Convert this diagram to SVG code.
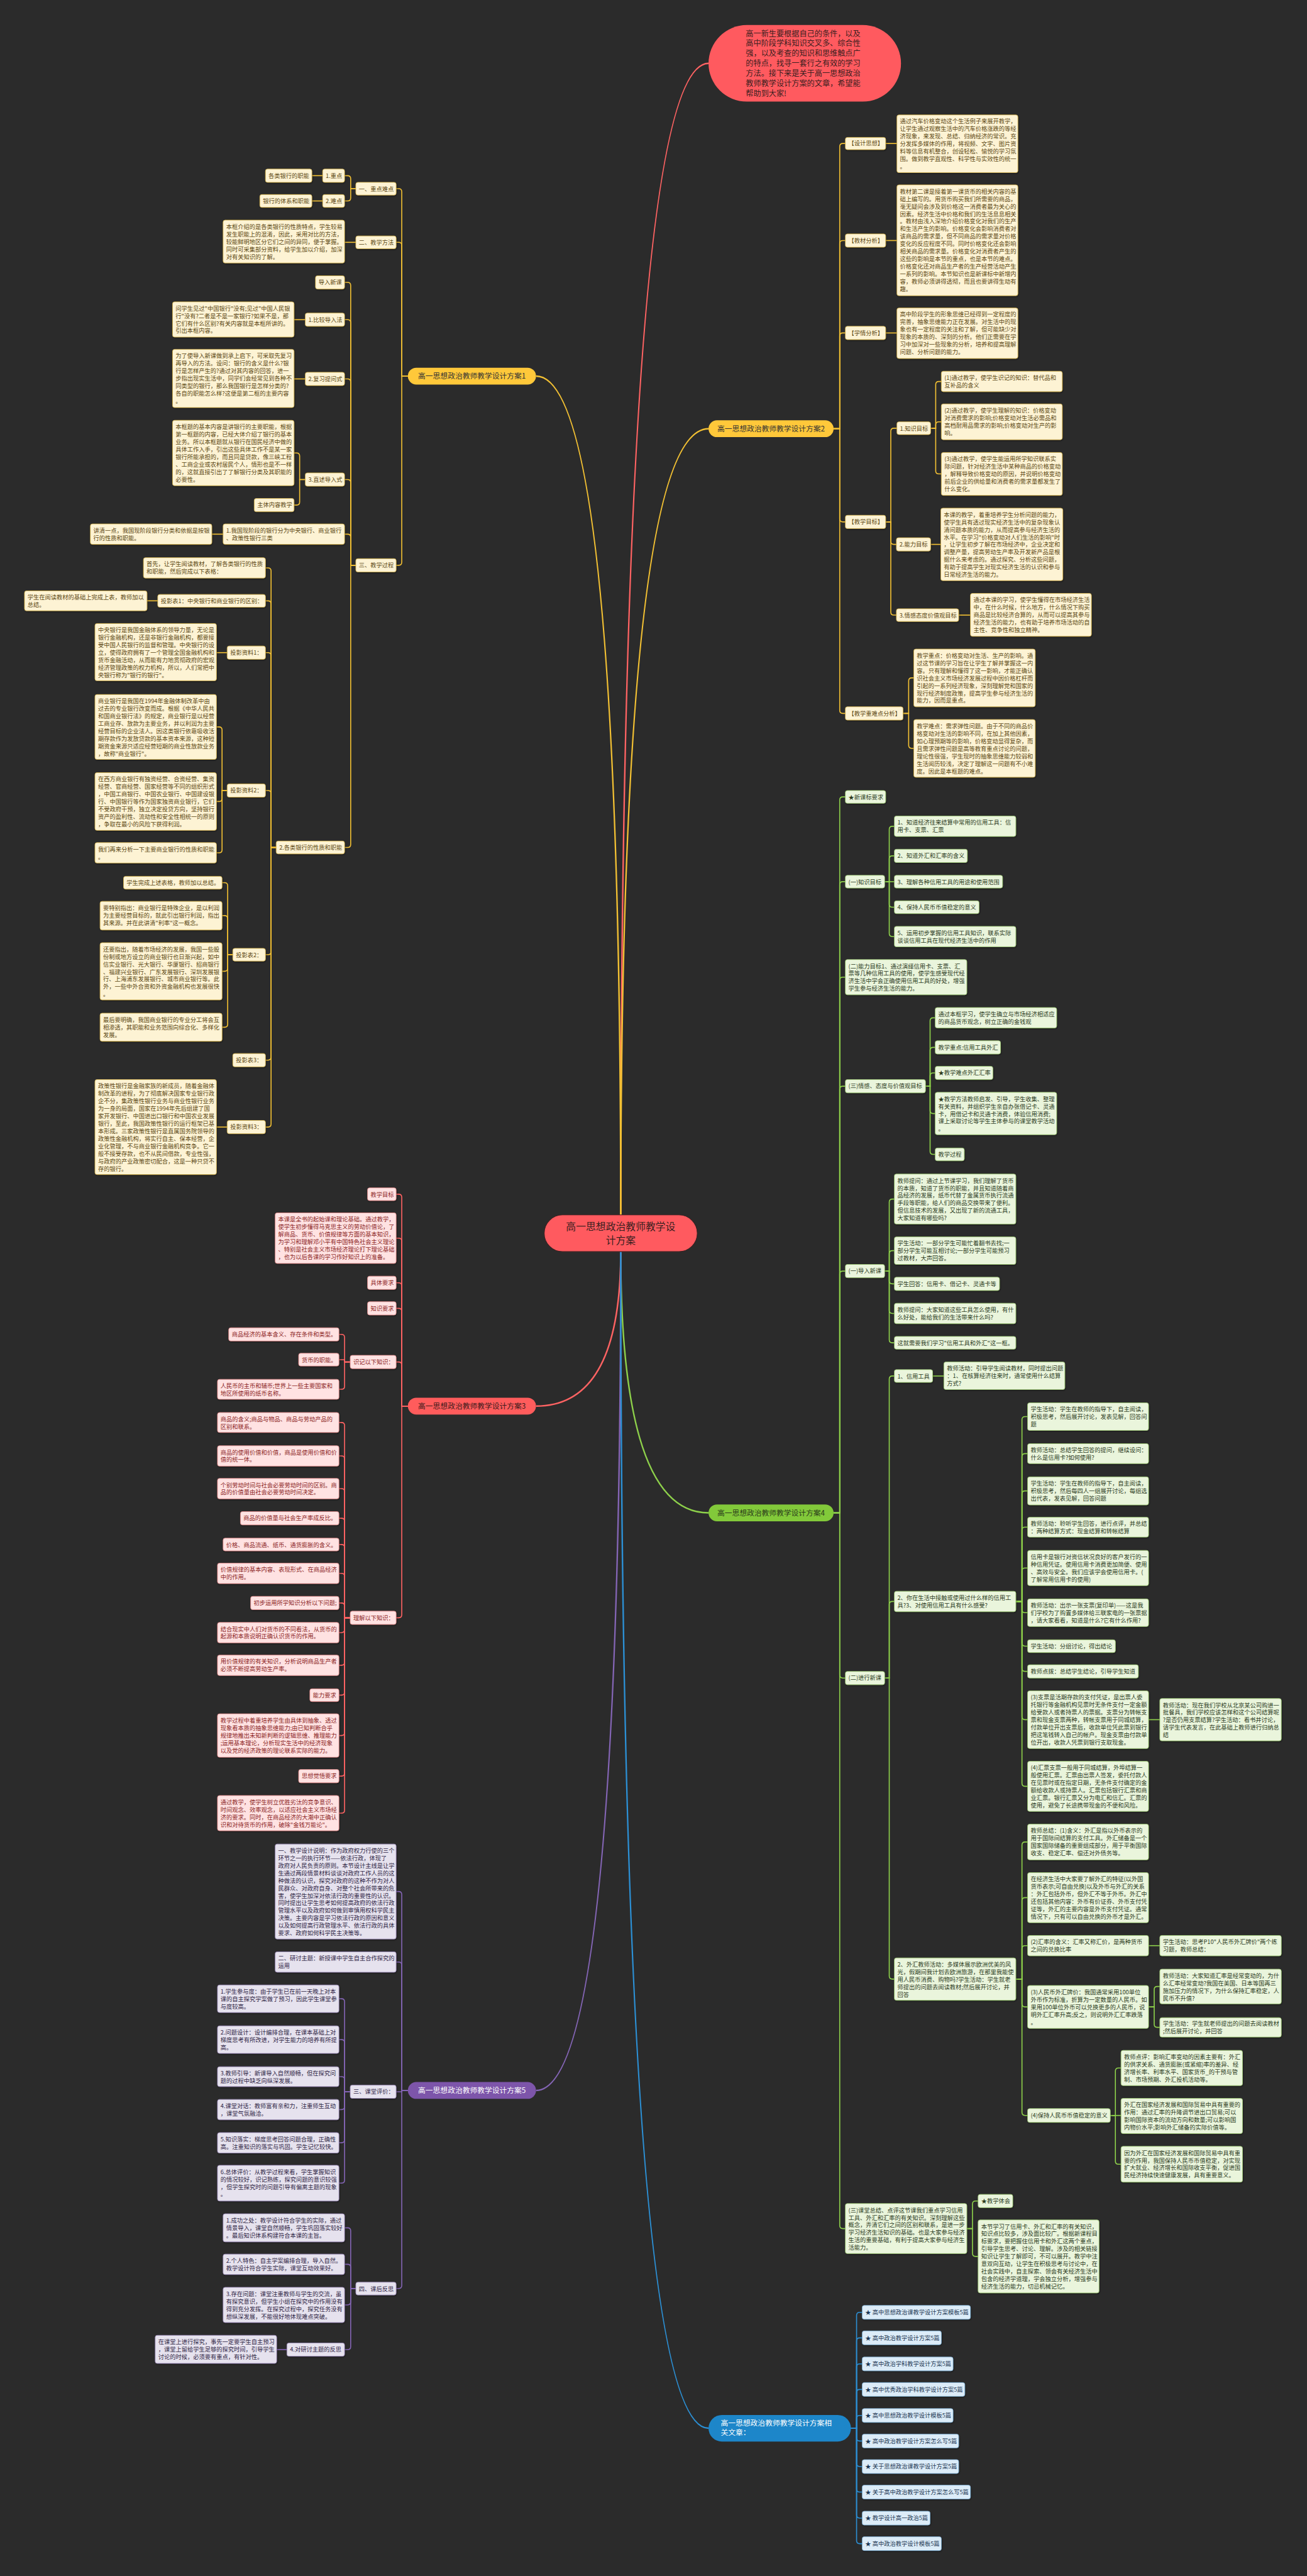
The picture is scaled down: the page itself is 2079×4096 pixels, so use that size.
<svg xmlns="http://www.w3.org/2000/svg" width="2079" height="4096" viewBox="0 0 2079 4096">
<defs><filter id="sh" x="-5%" y="-10%" width="115%" height="130%"><feDropShadow dx="1" dy="1.5" stdDeviation="1" flood-color="#000" flood-opacity="0.45"/></filter></defs>
<style>
text{font-family:"Noto Sans CJK SC","Noto Sans",sans-serif;font-size:11.4px}
path{fill:none;stroke-width:2}
.y rect,.r rect,.p rect,.g rect,.b rect{filter:url(#sh)}
.y rect{fill:#FDF3D4;stroke:#D9B54A;stroke-width:1}
.y text{fill:#5C4813}
.r rect{fill:#FFE2E2;stroke:#E58A8A;stroke-width:1}
.r text{fill:#8C1F1F}
.p rect{fill:#E6E2EE;stroke:#9A88B8;stroke-width:1}
.p text{fill:#2F2545}
.g rect{fill:#EAF5DC;stroke:#9BC870;stroke-width:1}
.g text{fill:#2C3B1C}
.b rect{fill:#DCECF8;stroke:#7FB3DA;stroke-width:1}
.b text{fill:#1B3652}
.m text{font-size:14.5px;text-anchor:middle}
.cy{stroke:#F2C033}.cr{stroke:#FF6363}.cg{stroke:#8ED14B}.cp{stroke:#8465B5}.cb{stroke:#2C90D5}
.main{stroke-width:3}
</style>
<rect width="2079" height="4096" fill="#2B2B2B"/>
<g transform="scale(0.812)">
<g id="connectors">
<path class="cr main" d="M1216 2379 Q1216 124 1388 124"/>
<path class="cy main" d="M1216 2379 Q1216 736.5 1050 736.5"/>
<path class="cy main" d="M1216 2379 Q1216 839.5 1388 839.5"/>
<path class="cr main" d="M1216 2451 Q1216 2753.5 1050 2753.5"/>
<path class="cg main" d="M1216 2451 Q1216 2962.5 1388 2962.5"/>
<path class="cp main" d="M1216 2451 Q1216 4093.5 1050 4093.5"/>
<path class="cb main" d="M1216 2451 Q1216 4755 1388 4755"/>
<g class="cy">
<path d="M799 736.5 H787 V375.5 Q787 369.5 781 369.5 H776"/>
<path d="M799 736.5 H787 V480.5 Q787 474.5 781 474.5 H776"/>
<path d="M799 736.5 H787 V1101 Q787 1107 781 1107 H776"/>
<path d="M697 369.5 H687 V350 Q687 344 681 344 H675"/>
<path d="M697 369.5 H687 V387.5 Q687 393.5 681 393.5 H675"/>
<path d="M632 344 H611"/><path d="M632 393.5 H611"/><path d="M697 474.5 H675"/>
<path d="M697 1107 H687 V559 Q687 553 681 553 H675"/>
<path d="M697 1107 H687 V632 Q687 626 681 626 H675"/>
<path d="M697 1107 H687 V748 Q687 742 681 742 H675"/>
<path d="M697 1107 H687 V945 Q687 939 681 939 H675"/>
<path d="M697 1107 H687 V1052 Q687 1046 681 1046 H675"/>
<path d="M697 1107 H687 V1653.5 Q687 1659.5 681 1659.5 H675"/>
<path d="M598 626 H576"/><path d="M598 742 H576"/>
<path d="M598 939 H587 V893 Q587 887 581 887 H576"/>
<path d="M598 939 H587 V983 Q587 989 581 989 H576"/>
<path d="M437 1046 H415"/>
<path d="M541 1659.5 H531 V1118 Q531 1112 525 1112 H520"/>
<path d="M541 1659.5 H531 V1182.5 Q531 1176.5 525 1176.5 H520"/>
<path d="M541 1659.5 H531 V1284 Q531 1278 525 1278 H520"/>
<path d="M541 1659.5 H531 V1554 Q531 1548 525 1548 H520"/>
<path d="M541 1659.5 H531 V1863.5 Q531 1869.5 525 1869.5 H520"/>
<path d="M541 1659.5 H531 V2070 Q531 2076 525 2076 H520"/>
<path d="M541 1659.5 H531 V2201 Q531 2207 525 2207 H520"/>
<path d="M309 1176.5 H288"/><path d="M445 1278 H424"/>
<path d="M445 1548 H435 V1429.5 Q435 1423.5 429 1423.5 H424"/>
<path d="M445 1548 H435 V1563.5 Q435 1569.5 429 1569.5 H424"/>
<path d="M445 1548 H435 V1664 Q435 1670 429 1670 H424"/>
<path d="M456 1869.5 H446 V1734.5 Q446 1728.5 440 1728.5 H435"/>
<path d="M456 1869.5 H446 V1799 Q446 1793 440 1793 H435"/>
<path d="M456 1869.5 H446 V1896 Q446 1902 440 1902 H435"/>
<path d="M456 1869.5 H446 V2005.5 Q446 2011.5 440 2011.5 H435"/>
<path d="M445 2207 H424"/>
<path d="M1633 839.5 H1645 V287 Q1645 281 1651 281 H1656"/>
<path d="M1633 839.5 H1645 V477 Q1645 471 1651 471 H1656"/>
<path d="M1633 839.5 H1645 V658 Q1645 652 1651 652 H1656"/>
<path d="M1633 839.5 H1645 V1016 Q1645 1022 1651 1022 H1656"/>
<path d="M1633 839.5 H1645 V1391 Q1645 1397 1651 1397 H1656"/>
<path d="M1735 281 H1757"/><path d="M1735 471 H1757"/><path d="M1735 652 H1757"/>
<path d="M1735 1022 H1745 V844.5 Q1745 838.5 1751 838.5 H1757"/>
<path d="M1735 1022 H1745 V1060 Q1745 1066 1751 1066 H1756"/>
<path d="M1735 1022 H1745 V1198.5 Q1745 1204.5 1751 1204.5 H1756"/>
<path d="M1823 838.5 H1833 V753 Q1833 747 1839 747 H1844"/>
<path d="M1823 838.5 H1833 V832 Q1833 826 1839 826 H1844"/>
<path d="M1823 838.5 H1833 V922 Q1833 928 1839 928 H1844"/>
<path d="M1823 1066 H1843"/><path d="M1878 1204.5 H1901"/>
<path d="M1769 1397 H1780 V1333.5 Q1780 1327.5 1786 1327.5 H1790"/>
<path d="M1769 1397 H1780 V1459.5 Q1780 1465.5 1786 1465.5 H1790"/>
</g>
<g class="cr">
<path d="M799 2753.5 H787 V2344.5 Q787 2338.5 781 2338.5 H776"/>
<path d="M799 2753.5 H787 V2430.5 Q787 2424.5 781 2424.5 H776"/>
<path d="M799 2753.5 H787 V2518 Q787 2512 781 2512 H776"/>
<path d="M799 2753.5 H787 V2568 Q787 2562 781 2562 H776"/>
<path d="M799 2753.5 H787 V2673 Q787 2667 781 2667 H776"/>
<path d="M799 2753.5 H787 V3162 Q787 3168 781 3168 H776"/>
<path d="M686 2667 H675 V2619 Q675 2613 669 2613 H664"/>
<path d="M686 2667 H675 V2662.5 H664"/>
<path d="M686 2667 H675 V2714.5 Q675 2720.5 669 2720.5 H664"/>
<path d="M686 3168 H675 V2791.5 Q675 2785.5 669 2785.5 H664"/>
<path d="M686 3168 H675 V2857 Q675 2851 669 2851 H664"/>
<path d="M686 3168 H675 V2921 Q675 2915 669 2915 H664"/>
<path d="M686 3168 H675 V2979 Q675 2973 669 2973 H664"/>
<path d="M686 3168 H675 V3030.5 Q675 3024.5 669 3024.5 H664"/>
<path d="M686 3168 H675 V3087 Q675 3081 669 3081 H664"/>
<path d="M686 3168 H675 V3145 Q675 3139 669 3139 H664"/>
<path d="M686 3168 H675 V3191 Q675 3197 669 3197 H664"/>
<path d="M686 3168 H675 V3255 Q675 3261 669 3261 H664"/>
<path d="M686 3168 H675 V3313.5 Q675 3319.5 669 3319.5 H664"/>
<path d="M686 3168 H675 V3392.5 Q675 3398.5 669 3398.5 H664"/>
<path d="M686 3168 H675 V3472 Q675 3478 669 3478 H664"/>
<path d="M686 3168 H675 V3544.5 Q675 3550.5 669 3550.5 H664"/>
</g>
<g class="cp">
<path d="M799 4093.5 H787 V3710 Q787 3704 781 3704 H776"/>
<path d="M799 4093.5 H787 V3848 Q787 3842 781 3842 H776"/>
<path d="M799 4093.5 H787 V4096 H776"/>
<path d="M799 4093.5 H787 V4475.5 Q787 4481.5 781 4481.5 H776"/>
<path d="M686 4096 H675 V3920 Q675 3914 669 3914 H664"/>
<path d="M686 4096 H675 V4000 Q675 3994 669 3994 H664"/>
<path d="M686 4096 H675 V4072.5 Q675 4066.5 669 4066.5 H664"/>
<path d="M686 4096 H675 V4125 Q675 4131 669 4131 H664"/>
<path d="M686 4096 H675 V4190 Q675 4196 669 4196 H664"/>
<path d="M686 4096 H675 V4269 Q675 4275 669 4275 H664"/>
<path d="M697 4481.5 H687 V4368.5 Q687 4362.5 681 4362.5 H675"/>
<path d="M697 4481.5 H687 V4440 Q687 4434 681 4434 H675"/>
<path d="M697 4481.5 H687 V4507.5 Q687 4513.5 681 4513.5 H675"/>
<path d="M697 4481.5 H687 V4595 Q687 4601 681 4601 H675"/>
<path d="M562 4601 H542"/>
</g>
<g class="cg">
<path d="M1633 2962.5 H1645 V1566.5 Q1645 1560.5 1651 1560.5 H1656"/>
<path d="M1633 2962.5 H1645 V1732.5 Q1645 1726.5 1651 1726.5 H1656"/>
<path d="M1633 2962.5 H1645 V1919.5 Q1645 1913.5 1651 1913.5 H1656"/>
<path d="M1633 2962.5 H1645 V2133 Q1645 2127 1651 2127 H1656"/>
<path d="M1633 2962.5 H1645 V2495 Q1645 2489 1651 2489 H1656"/>
<path d="M1633 2962.5 H1645 V3280 Q1645 3286 1651 3286 H1656"/>
<path d="M1633 2962.5 H1645 V4358 Q1645 4364 1651 4364 H1656"/>
<path d="M1733 1726.5 H1742 V1624 Q1742 1618 1748 1618 H1752"/>
<path d="M1733 1726.5 H1742 V1682 Q1742 1676 1748 1676 H1752"/>
<path d="M1733 1726.5 H1752"/>
<path d="M1733 1726.5 H1742 V1770.5 Q1742 1776.5 1748 1776.5 H1752"/>
<path d="M1733 1726.5 H1742 V1828 Q1742 1834 1748 1834 H1752"/>
<path d="M1813 2127 H1822 V1999 Q1822 1993 1828 1993 H1832"/>
<path d="M1813 2127 H1822 V2057 Q1822 2051 1828 2051 H1832"/>
<path d="M1813 2127 H1822 V2107 Q1822 2101 1828 2101 H1832"/>
<path d="M1813 2127 H1822 V2174.5 Q1822 2180.5 1828 2180.5 H1832"/>
<path d="M1813 2127 H1822 V2254.5 Q1822 2260.5 1828 2260.5 H1832"/>
<path d="M1733 2489 H1742 V2354 Q1742 2348 1748 2348 H1752"/>
<path d="M1733 2489 H1742 V2455 Q1742 2449 1748 2449 H1752"/>
<path d="M1733 2489 H1742 V2508 Q1742 2514 1748 2514 H1752"/>
<path d="M1733 2489 H1742 V2566 Q1742 2572 1748 2572 H1752"/>
<path d="M1733 2489 H1742 V2623.5 Q1742 2629.5 1748 2629.5 H1752"/>
<path d="M1733 3286 H1742 V2700.5 Q1742 2694.5 1748 2694.5 H1752"/>
<path d="M1733 3286 H1742 V3142 Q1742 3136 1748 3136 H1752"/>
<path d="M1733 3286 H1742 V3869.5 Q1742 3875.5 1748 3875.5 H1752"/>
<path d="M1827 2694.5 H1849"/>
<path d="M1990 3136 H2002 V2780 Q2002 2774 2008 2774 H2013"/>
<path d="M1990 3136 H2002 V2852.5 Q2002 2846.5 2008 2846.5 H2013"/>
<path d="M1990 3136 H2002 V2925.5 Q2002 2919.5 2008 2919.5 H2013"/>
<path d="M1990 3136 H2002 V2996.5 Q2002 2990.5 2008 2990.5 H2013"/>
<path d="M1990 3136 H2002 V3076.5 Q2002 3070.5 2008 3070.5 H2013"/>
<path d="M1990 3136 H2002 V3152 Q2002 3158 2008 3158 H2013"/>
<path d="M1990 3136 H2002 V3217.5 Q2002 3223.5 2008 3223.5 H2013"/>
<path d="M1990 3136 H2002 V3267 Q2002 3273 2008 3273 H2013"/>
<path d="M1990 3136 H2002 V3361.5 Q2002 3367.5 2008 3367.5 H2013"/>
<path d="M1990 3136 H2002 V3492 Q2002 3498 2008 3498 H2013"/>
<path d="M2250 3367.5 H2272"/>
<path d="M1990 3875.5 H2002 V3613 Q2002 3607 2008 3607 H2013"/>
<path d="M1990 3875.5 H2002 V3722 Q2002 3716 2008 3716 H2013"/>
<path d="M1990 3875.5 H2002 V3816 Q2002 3810 2008 3810 H2013"/>
<path d="M1990 3875.5 H2002 V3924 Q2002 3930 2008 3930 H2013"/>
<path d="M1990 3875.5 H2002 V4136.5 Q2002 4142.5 2008 4142.5 H2013"/>
<path d="M2250 3810 H2272"/>
<path d="M2250 3930 H2261 V3896 Q2261 3890 2267 3890 H2272"/>
<path d="M2250 3930 H2261 V3964 Q2261 3970 2267 3970 H2272"/>
<path d="M2175 4142.5 H2185 V4055.5 Q2185 4049.5 2191 4049.5 H2196"/>
<path d="M2175 4142.5 H2196"/>
<path d="M2175 4142.5 H2185 V4232 Q2185 4238 2191 4238 H2196"/>
<path d="M1894 4364 H1905 V4316 Q1905 4310 1911 4310 H1916"/>
<path d="M1894 4364 H1905 V4412.5 Q1905 4418.5 1911 4418.5 H1916"/>
</g>
<g class="cb">
<path d="M1667 4755 H1678 V4534 Q1678 4528 1684 4528 H1689"/>
<path d="M1667 4755 H1678 V4584 Q1678 4578 1684 4578 H1689"/>
<path d="M1667 4755 H1678 V4635 Q1678 4629 1684 4629 H1689"/>
<path d="M1667 4755 H1678 V4685 Q1678 4679 1684 4679 H1689"/>
<path d="M1667 4755 H1678 V4736 Q1678 4730 1684 4730 H1689"/>
<path d="M1667 4755 H1678 V4774 Q1678 4780 1684 4780 H1689"/>
<path d="M1667 4755 H1678 V4824 Q1678 4830 1684 4830 H1689"/>
<path d="M1667 4755 H1678 V4874 Q1678 4880 1684 4880 H1689"/>
<path d="M1667 4755 H1678 V4925 Q1678 4931 1684 4931 H1689"/>
<path d="M1667 4755 H1678 V4975 Q1678 4981 1684 4981 H1689"/>
</g>
</g>

<g id="center"><rect x="1066" y="2379" width="300" height="72" rx="36" fill="#FF5A5F" stroke="#3A2222" stroke-width="1.5"/><text x="1216" y="2409" text-anchor="middle" fill="#3A2020" style="font-size:19.5px">高一思想政治教师教学设</text><text x="1216" y="2436" text-anchor="middle" fill="#3A2020" style="font-size:19.5px">计方案</text></g>

<g id="intro"><rect x="1388" y="49" width="377" height="150" rx="75" fill="#FF5A5F"/>
<text fill="#3A2020" style="font-size:15px"><tspan x="1461" y="71">高一新生要根据自己的条件，以及</tspan><tspan x="1461" dy="19.5">高中阶段学科知识交叉多、综合性</tspan><tspan x="1461" dy="19.5">强，以及考查的知识和思维触点广</tspan><tspan x="1461" dy="19.5">的特点，找寻一套行之有效的学习</tspan><tspan x="1461" dy="19.5">方法。接下来是关于高一思想政治</tspan><tspan x="1461" dy="19.5">教师教学设计方案的文章，希望能</tspan><tspan x="1461" dy="19.5">帮助到大家!</tspan></text></g>

<g id="b1" class="m"><rect x="799" y="720" width="251" height="33" rx="16.5" fill="#FFC83A"/><text x="924.5" y="742" fill="#333">高一思想政治教师教学设计方案1</text></g>
<g id="b2" class="m"><rect x="1388" y="823" width="245" height="33" rx="16.5" fill="#FFC83A"/><text x="1510.5" y="845" fill="#333">高一思想政治教师教学设计方案2</text></g>
<g id="b3" class="m"><rect x="799" y="2737" width="251" height="33" rx="16.5" fill="#FF5C5C"/><text x="924.5" y="2759" fill="#3A1A1A">高一思想政治教师教学设计方案3</text></g>
<g id="b4" class="m"><rect x="1388" y="2946" width="245" height="33" rx="16.5" fill="#82C93A"/><text x="1510.5" y="2968" fill="#2A3A1A">高一思想政治教师教学设计方案4</text></g>
<g id="b5" class="m"><rect x="799" y="4077" width="251" height="33" rx="16.5" fill="#7D55AA"/><text x="924.5" y="4099" fill="#fff">高一思想政治教师教学设计方案5</text></g>
<g id="b6"><rect x="1388" y="4729" width="279" height="52" rx="26" fill="#1D86C9"/><text fill="#fff" style="font-size:14.5px"><tspan x="1412" y="4750">高一思想政治教师教学设计方案相</tspan><tspan x="1412" y="4769">关文章：</tspan></text></g>

<g class="y">
<g id="y1"><rect x="697" y="357" width="79" height="25" rx="4"/><text x="703" y="374">一、重点难点</text></g>
<g id="y1a"><rect x="632" y="331" width="43" height="26" rx="4"/><text x="638" y="348">1.重点</text></g>
<g id="y1a1"><rect x="520" y="331" width="91" height="26" rx="4"/><text x="526" y="348">各类银行的职能</text></g>
<g id="y1b"><rect x="632" y="381" width="43" height="25" rx="4"/><text x="638" y="398">2.难点</text></g>
<g id="y1b1"><rect x="509" y="381" width="102" height="25" rx="4"/><text x="515" y="398">银行的体系和职能</text></g>
<g id="y2"><rect x="697" y="462" width="79" height="25" rx="4"/><text x="703" y="479">二、教学方法</text></g>
<g id="y2a"><rect x="437" y="431" width="238" height="84" rx="4"/><text><tspan x="443" y="448">本框介绍的是各类银行的性质特点，学生较易</tspan><tspan x="443" dy="14.7">发生职能上的混淆，因此，采用对比的方法，</tspan><tspan x="443" dy="14.7">较能鲜明地区分它们之间的异同，便于掌握。</tspan><tspan x="443" dy="14.7">同时可采集部分资料，给学生加以介绍，加深</tspan><tspan x="443" dy="14.7">对有关知识的了解。</tspan></text></g>
<g id="y3"><rect x="697" y="1094" width="79" height="26" rx="4"/><text x="703" y="1111">三、教学过程</text></g>
<g id="y3a"><rect x="618" y="540" width="57" height="26" rx="4"/><text x="624" y="557">导入新课</text></g>
<g id="y3b"><rect x="598" y="613" width="77" height="26" rx="4"/><text x="604" y="630">1.比较导入法</text></g>
<g id="y3b1"><rect x="338" y="591" width="238" height="69" rx="4"/><text><tspan x="344" y="608">问学生见过"中国银行"没有;见过"中国人民银</tspan><tspan x="344" dy="14.7">行"没有?二者是不是一家银行?如果不是，那</tspan><tspan x="344" dy="14.7">它们有什么区别?有关内容就是本框所讲的。</tspan><tspan x="344" dy="14.7">引出本框内容。</tspan></text></g>
<g id="y3c"><rect x="598" y="729" width="77" height="26" rx="4"/><text x="604" y="746">2.复习提问式</text></g>
<g id="y3c1"><rect x="338" y="684" width="238" height="114" rx="4"/><text><tspan x="344" y="701">为了使导入新课做到承上启下，可采取先复习</tspan><tspan x="344" dy="14.7">再导入的方法。设问：银行的含义是什么?银</tspan><tspan x="344" dy="14.7">行是怎样产生的?通过对其内容的回答，进一</tspan><tspan x="344" dy="14.7">步指出现实生活中，同学们会经常见到各种不</tspan><tspan x="344" dy="14.7">同类型的银行，那么我国银行是怎样分类的?</tspan><tspan x="344" dy="14.7">各自的职能怎么样?这便是第二框的主要内容</tspan><tspan x="344" dy="14.7">。</tspan></text></g>
<g id="y3d"><rect x="598" y="926" width="77" height="26" rx="4"/><text x="604" y="943">3.直述导入式</text></g>
<g id="y3d1"><rect x="338" y="823" width="238" height="128" rx="4"/><text><tspan x="344" y="840">本框题的基本内容是讲银行的主要职能，根据</tspan><tspan x="344" dy="14.7">第一框题的内容，已经大体介绍了银行的基本</tspan><tspan x="344" dy="14.7">业务。所以本框题就从银行在国民经济中做的</tspan><tspan x="344" dy="14.7">具体工作入手，引出这些具体工作不是某一家</tspan><tspan x="344" dy="14.7">银行所能承担的，而且同是贷款，像三峡工程</tspan><tspan x="344" dy="14.7">、工商企业或农村居民个人，情形也是不一样</tspan><tspan x="344" dy="14.7">的，这就直接引出了了解银行分类及其职能的</tspan><tspan x="344" dy="14.7">必要性。</tspan></text></g>
<g id="y3d2"><rect x="498" y="976" width="78" height="26" rx="4"/><text x="504" y="993">主体内容教学</text></g>
<g id="y3e"><rect x="437" y="1026" width="238" height="40" rx="4"/><text><tspan x="443" y="1043">1.我国现阶段的银行分为中央银行、商业银行</tspan><tspan x="443" dy="14.7">、政策性银行三类</tspan></text></g>
<g id="y3e1"><rect x="177" y="1026" width="238" height="40" rx="4"/><text><tspan x="183" y="1043">讲清一点，我国现阶段银行分类和依据是按银</tspan><tspan x="183" dy="14.7">行的性质和职能。</tspan></text></g>
<g id="y3f"><rect x="541" y="1647" width="134" height="25" rx="4"/><text x="547" y="1664">2.各类银行的性质和职能</text></g>
<g id="y3f1"><rect x="281" y="1092" width="239" height="40" rx="4"/><text><tspan x="287" y="1109">首先，让学生阅读教材，了解各类银行的性质</tspan><tspan x="287" dy="14.7">和职能，然后完成以下表格：</tspan></text></g>
<g id="y3f2"><rect x="309" y="1164" width="211" height="25" rx="4"/><text x="315" y="1181">投影表1：中央银行和商业银行的区别：</text></g>
<g id="y3f2a"><rect x="48" y="1157" width="240" height="39" rx="4"/><text><tspan x="54" y="1174">学生在阅读教材的基础上完成上表，教师加以</tspan><tspan x="54" dy="14.7">总结。</tspan></text></g>
<g id="y3f3"><rect x="445" y="1265" width="75" height="26" rx="4"/><text x="451" y="1282">投影资料1：</text></g>
<g id="y3f3a"><rect x="186" y="1221" width="238" height="112" rx="4"/><text><tspan x="192" y="1238">中央银行是我国金融体系的领导力量，无论是</tspan><tspan x="192" dy="14.7">银行金融机构，还是非银行金融机构，都要接</tspan><tspan x="192" dy="14.7">受中国人民银行的监督和管理。中央银行的设</tspan><tspan x="192" dy="14.7">立，使得政府拥有了一个管理全国金融机构和</tspan><tspan x="192" dy="14.7">货币金融活动，从而能有力地贯彻政府的宏观</tspan><tspan x="192" dy="14.7">经济管理政策的权力机构，所以，人们常把中</tspan><tspan x="192" dy="14.7">央银行称为"银行的银行"。</tspan></text></g>
<g id="y3f4"><rect x="445" y="1535" width="75" height="26" rx="4"/><text x="451" y="1552">投影资料2：</text></g>
<g id="y3f4a"><rect x="186" y="1360" width="238" height="127" rx="4"/><text><tspan x="192" y="1377">商业银行是我国在1994年金融体制改革中由</tspan><tspan x="192" dy="14.7">过去的专业银行改变而成。根据《中华人民共</tspan><tspan x="192" dy="14.7">和国商业银行法》的规定，商业银行是以经营</tspan><tspan x="192" dy="14.7">工商业存、放款为主要业务，并以利润为主要</tspan><tspan x="192" dy="14.7">经营目标的企业法人。因这类银行依靠吸收活</tspan><tspan x="192" dy="14.7">期存款作为发放贷款的基本资本来源，这种短</tspan><tspan x="192" dy="14.7">期资金来源只适应经营短期的商业性放款业务</tspan><tspan x="192" dy="14.7">，故称"商业银行"。</tspan></text></g>
<g id="y3f4b"><rect x="186" y="1513" width="238" height="113" rx="4"/><text><tspan x="192" y="1530">在西方商业银行有独资经营、合资经营、集资</tspan><tspan x="192" dy="14.7">经营、官商经营、国家经营等不同的组织形式</tspan><tspan x="192" dy="14.7">，中国工商银行、中国农业银行、中国建设银</tspan><tspan x="192" dy="14.7">行、中国银行等作为国家独资商业银行，它们</tspan><tspan x="192" dy="14.7">不受政府干预，独立决定投贷方向，坚持银行</tspan><tspan x="192" dy="14.7">资产的盈利性、流动性和安全性相统一的原则</tspan><tspan x="192" dy="14.7">，争取在最小的风险下获得利润。</tspan></text></g>
<g id="y3f4c"><rect x="186" y="1650" width="238" height="40" rx="4"/><text><tspan x="192" y="1667">我们再来分析一下主要商业银行的性质和职能</tspan><tspan x="192" dy="14.7">。</tspan></text></g>
<g id="y3f5"><rect x="456" y="1857" width="64" height="25" rx="4"/><text x="462" y="1874">投影表2：</text></g>
<g id="y3f5a"><rect x="242" y="1716" width="193" height="25" rx="4"/><text x="248" y="1733">学生完成上述表格，教师加以总结。</text></g>
<g id="y3f5b"><rect x="196" y="1765" width="239" height="56" rx="4"/><text><tspan x="202" y="1782">要特别指出：商业银行是特殊企业，是以利润</tspan><tspan x="202" dy="14.7">为主要经营目标的，就此引出银行利润，指出</tspan><tspan x="202" dy="14.7">其来源。并在此讲清"利率"这一概念。</tspan></text></g>
<g id="y3f5c"><rect x="196" y="1846" width="239" height="112" rx="4"/><text><tspan x="202" y="1863">还要指出，随着市场经济的发展，我国一些股</tspan><tspan x="202" dy="14.7">份制或地方设立的商业银行也日渐兴起，如中</tspan><tspan x="202" dy="14.7">信实业银行、光大银行、华厦银行、招商银行</tspan><tspan x="202" dy="14.7">、福建兴业银行、广东发展银行、深圳发展银</tspan><tspan x="202" dy="14.7">行、上海浦东发展银行、城市商业银行等。此</tspan><tspan x="202" dy="14.7">外，一些中外合资和外资金融机构也发展很快</tspan><tspan x="202" dy="14.7">。</tspan></text></g>
<g id="y3f5d"><rect x="196" y="1984" width="239" height="55" rx="4"/><text><tspan x="202" y="2001">最后要明确，我国商业银行的专业分工将会互</tspan><tspan x="202" dy="14.7">相渗透，其职能和业务范围向综合化、多样化</tspan><tspan x="202" dy="14.7">发展。</tspan></text></g>
<g id="y3f6"><rect x="456" y="2063" width="64" height="26" rx="4"/><text x="462" y="2080">投影表3：</text></g>
<g id="y3f7"><rect x="445" y="2194" width="75" height="26" rx="4"/><text x="451" y="2211">投影资料3：</text></g>
<g id="y3f7a"><rect x="186" y="2114" width="238" height="186" rx="4"/><text><tspan x="192" y="2131">政策性银行是金融家族的新成员，随着金融体</tspan><tspan x="192" dy="14.7">制改革的进程，为了彻底解决国家专业银行政</tspan><tspan x="192" dy="14.7">企不分，集政策性银行业务与商业性银行业务</tspan><tspan x="192" dy="14.7">为一身的局面，国家在1994年先后组建了国</tspan><tspan x="192" dy="14.7">家开发银行、中国进出口银行和中国农业发展</tspan><tspan x="192" dy="14.7">银行，至此，我国政策性银行的运行框架已基</tspan><tspan x="192" dy="14.7">本形成。三家政策性银行是直属国务院领导的</tspan><tspan x="192" dy="14.7">政策性金融机构，将实行自主、保本经营，企</tspan><tspan x="192" dy="14.7">业化管理，不与商业银行金融机构竞争。它一</tspan><tspan x="192" dy="14.7">般不接受存款，也不从民间借款，专业性强，</tspan><tspan x="192" dy="14.7">与政府的产业政策密切配合，这是一种只贷不</tspan><tspan x="192" dy="14.7">存的银行。</tspan></text></g>

<g id="z1"><rect x="1656" y="269" width="79" height="24" rx="4"/><text x="1662" y="285">【设计思想】</text></g>
<g id="z1a"><rect x="1757" y="225" width="237" height="113" rx="4"/><text><tspan x="1763" y="242">通过汽车价格变动这个生活例子来展开教学，</tspan><tspan x="1763" dy="14.7">让学生通过观察生活中的汽车价格涨跌的等经</tspan><tspan x="1763" dy="14.7">济现象，来发现、总结、归纳经济的常识。充</tspan><tspan x="1763" dy="14.7">分发挥多媒体的作用，将视频、文字、图片资</tspan><tspan x="1763" dy="14.7">料等信息有机整合，创设轻松、愉悦的学习氛</tspan><tspan x="1763" dy="14.7">围。做到教学直观性、科学性与实效性的统一</tspan><tspan x="1763" dy="14.7">。</tspan></text></g>
<g id="z2"><rect x="1656" y="458" width="79" height="26" rx="4"/><text x="1662" y="475">【教材分析】</text></g>
<g id="z2a"><rect x="1757" y="362" width="237" height="217" rx="4"/><text><tspan x="1763" y="379">教材第二课是接着第一课货币的相关内容的基</tspan><tspan x="1763" dy="14.7">础上编写的。用货币购买我们所需要的商品，</tspan><tspan x="1763" dy="14.7">毫无疑问会涉及到价格这一消费者最为关心的</tspan><tspan x="1763" dy="14.7">因素。经济生活中价格和我们的生活息息相关</tspan><tspan x="1763" dy="14.7">。教材由浅入深地介绍价格变化对我们的生产</tspan><tspan x="1763" dy="14.7">和生活产生的影响。价格变化会影响消费者对</tspan><tspan x="1763" dy="14.7">该商品的需求量，但不同商品的需求量对价格</tspan><tspan x="1763" dy="14.7">变化的反应程度不同。同时价格变化还会影响</tspan><tspan x="1763" dy="14.7">相关商品的需求量。价格变化对消费者产生的</tspan><tspan x="1763" dy="14.7">这些的影响是本节的重点，也是本节的难点。</tspan><tspan x="1763" dy="14.7">价格变化还对商品生产者的生产经营活动产生</tspan><tspan x="1763" dy="14.7">一系列的影响。本节知识也是新课标中新增内</tspan><tspan x="1763" dy="14.7">容，教师必须讲得透彻，而且也要讲得生动有</tspan><tspan x="1763" dy="14.7">趣。</tspan></text></g>
<g id="z3"><rect x="1656" y="639" width="79" height="26" rx="4"/><text x="1662" y="656">【学情分析】</text></g>
<g id="z3a"><rect x="1757" y="603" width="237" height="99" rx="4"/><text><tspan x="1763" y="620">高中阶段学生的形象思维已经得到一定程度的</tspan><tspan x="1763" dy="14.7">完善，抽象思维能力正在发展。对生活中的现</tspan><tspan x="1763" dy="14.7">象也有一定程度的关注和了解，但可能缺少对</tspan><tspan x="1763" dy="14.7">现象的本质的、深刻的分析。他们正需要在学</tspan><tspan x="1763" dy="14.7">习中加深对一些现象的分析，培养和提高理解</tspan><tspan x="1763" dy="14.7">问题、分析问题的能力。</tspan></text></g>
<g id="z4"><rect x="1656" y="1009" width="79" height="26" rx="4"/><text x="1662" y="1026">【教学目标】</text></g>
<g id="z4a"><rect x="1757" y="826" width="66" height="25" rx="4"/><text x="1763" y="843">1.知识目标</text></g>
<g id="z4a1"><rect x="1844" y="727" width="237" height="40" rx="4"/><text><tspan x="1850" y="744">(1)通过教学，使学生识记的知识：替代品和</tspan><tspan x="1850" dy="14.7">互补品的含义</tspan></text></g>
<g id="z4a2"><rect x="1844" y="791" width="237" height="70" rx="4"/><text><tspan x="1850" y="808">(2)通过教学，使学生理解的知识：价格变动</tspan><tspan x="1850" dy="14.7">对消费需求的影响;价格变动对生活必需品和</tspan><tspan x="1850" dy="14.7">高档耐用品需求的影响;价格变动对生产的影</tspan><tspan x="1850" dy="14.7">响。</tspan></text></g>
<g id="z4a3"><rect x="1844" y="886" width="237" height="84" rx="4"/><text><tspan x="1850" y="903">(3)通过教学，使学生能运用所学知识联系实</tspan><tspan x="1850" dy="14.7">际问题，针对经济生活中某种商品的价格变动</tspan><tspan x="1850" dy="14.7">，解释导致价格变动的原因，并说明价格变动</tspan><tspan x="1850" dy="14.7">前后企业的供给量和消费者的需求量都发生了</tspan><tspan x="1850" dy="14.7">什么变化。</tspan></text></g>
<g id="z4b"><rect x="1756" y="1053" width="67" height="26" rx="4"/><text x="1762" y="1070">2.能力目标</text></g>
<g id="z4b1"><rect x="1843" y="995" width="239" height="142" rx="4"/><text><tspan x="1849" y="1012">本课的教学，着重培养学生分析问题的能力，</tspan><tspan x="1849" dy="14.7">使学生具有透过现实经济生活中的复杂现象认</tspan><tspan x="1849" dy="14.7">清问题本质的能力，从而提高参与经济生活的</tspan><tspan x="1849" dy="14.7">水平。在学习"价格变动对人们生活的影响"时</tspan><tspan x="1849" dy="14.7">，让学生初步了解在市场经济中，企业决定和</tspan><tspan x="1849" dy="14.7">调整产量，提高劳动生产率及开发新产品是根</tspan><tspan x="1849" dy="14.7">据什么来考虑的。通过探究、分析这些问题，</tspan><tspan x="1849" dy="14.7">有助于提高学生对现实经济生活的认识和参与</tspan><tspan x="1849" dy="14.7">日常经济生活的能力。</tspan></text></g>
<g id="z4c"><rect x="1756" y="1192" width="122" height="25" rx="4"/><text x="1762" y="1209">3.情感态度价值观目标</text></g>
<g id="z4c1"><rect x="1901" y="1162" width="237" height="84" rx="4"/><text><tspan x="1907" y="1179">通过本课的学习，使学生懂得在市场经济生活</tspan><tspan x="1907" dy="14.7">中，在什么时候，什么地方，什么情况下购买</tspan><tspan x="1907" dy="14.7">商品是比较经济合算的，从而可以提高其参与</tspan><tspan x="1907" dy="14.7">经济生活的能力，也有助于培养市场活动的自</tspan><tspan x="1907" dy="14.7">主性、竞争性和独立精神。</tspan></text></g>
<g id="z5"><rect x="1656" y="1384" width="113" height="26" rx="4"/><text x="1662" y="1401">【教学重难点分析】</text></g>
<g id="z5a"><rect x="1790" y="1271" width="238" height="113" rx="4"/><text><tspan x="1796" y="1288">教学重点：价格变动对生活、生产的影响。通</tspan><tspan x="1796" dy="14.7">过这节课的学习旨在让学生了解并掌握这一内</tspan><tspan x="1796" dy="14.7">容。只有理解和懂得了这一影响，才能正确认</tspan><tspan x="1796" dy="14.7">识社会主义市场经济发展过程中因价格杠杆而</tspan><tspan x="1796" dy="14.7">引起的一系列经济现象，深刻理解党和国家的</tspan><tspan x="1796" dy="14.7">现行经济制度政策，提高学生参与经济生活的</tspan><tspan x="1796" dy="14.7">能力，因而是重点。</tspan></text></g>
<g id="z5b"><rect x="1790" y="1409" width="238" height="113" rx="4"/><text><tspan x="1796" y="1426">教学难点：需求弹性问题。由于不同的商品价</tspan><tspan x="1796" dy="14.7">格变动对生活的影响不同，在加上其他因素，</tspan><tspan x="1796" dy="14.7">如心理预期等的影响，价格变动显得复杂，而</tspan><tspan x="1796" dy="14.7">且需求弹性问题是高等教育重点讨论的问题，</tspan><tspan x="1796" dy="14.7">理论性很强，学生现时的抽象思维能力较弱和</tspan><tspan x="1796" dy="14.7">生活阅历较浅，决定了理解这一问题有不小难</tspan><tspan x="1796" dy="14.7">度。因此是本框题的难点。</tspan></text></g>
</g>

<g class="r">
<g id="r1"><rect x="720" y="2326" width="56" height="25" rx="4"/><text x="726" y="2343">教学目标</text></g>
<g id="r2"><rect x="539" y="2375" width="237" height="99" rx="4"/><text><tspan x="545" y="2392">本课是全书的起始课和理论基础。通过教学，</tspan><tspan x="545" dy="14.7">使学生初步懂得马克思主义的劳动价值论，了</tspan><tspan x="545" dy="14.7">解商品、货币、价值规律等方面的基本知识，</tspan><tspan x="545" dy="14.7">为学习和理解邓小平有中国特色社会主义理论</tspan><tspan x="545" dy="14.7">、特别是社会主义市场经济理论打下理论基础</tspan><tspan x="545" dy="14.7">，也为以后各课的学习作好知识上的准备。</tspan></text></g>
<g id="r3"><rect x="720" y="2499" width="56" height="26" rx="4"/><text x="726" y="2516">具体要求</text></g>
<g id="r4"><rect x="720" y="2549" width="56" height="26" rx="4"/><text x="726" y="2566">知识要求</text></g>
<g id="r5"><rect x="686" y="2654" width="90" height="26" rx="4"/><text x="692" y="2671">识记以下知识：</text></g>
<g id="r5a"><rect x="448" y="2600" width="216" height="26" rx="4"/><text x="454" y="2617">商品经济的基本含义、存在条件和类型。</text></g>
<g id="r5b"><rect x="585" y="2650" width="79" height="25" rx="4"/><text x="591" y="2667">货币的职能。</text></g>
<g id="r5c"><rect x="426" y="2701" width="238" height="39" rx="4"/><text><tspan x="432" y="2718">人民币的主币和辅币;世界上一些主要国家和</tspan><tspan x="432" dy="14.7">地区所使用的纸币名称。</tspan></text></g>
<g id="r6"><rect x="686" y="3155" width="90" height="26" rx="4"/><text x="692" y="3172">理解以下知识：</text></g>
<g id="r6a"><rect x="426" y="2766" width="238" height="39" rx="4"/><text><tspan x="432" y="2783">商品的含义;商品与物品、商品与劳动产品的</tspan><tspan x="432" dy="14.7">区别和联系。</tspan></text></g>
<g id="r6b"><rect x="426" y="2831" width="238" height="40" rx="4"/><text><tspan x="432" y="2848">商品的使用价值和价值，商品是使用价值和价</tspan><tspan x="432" dy="14.7">值的统一体。</tspan></text></g>
<g id="r6c"><rect x="426" y="2895" width="238" height="40" rx="4"/><text><tspan x="432" y="2912">个别劳动时间与社会必要劳动时间的区别。商</tspan><tspan x="432" dy="14.7">品的价值量由社会必要劳动时间决定。</tspan></text></g>
<g id="r6d"><rect x="471" y="2960" width="193" height="26" rx="4"/><text x="477" y="2977">商品的价值量与社会生产率成反比。</text></g>
<g id="r6e"><rect x="437" y="3012" width="227" height="25" rx="4"/><text x="443" y="3029">价格、商品流通、纸币、通货膨胀的含义。</text></g>
<g id="r6f"><rect x="426" y="3061" width="238" height="40" rx="4"/><text><tspan x="432" y="3078">价值规律的基本内容、表现形式、在商品经济</tspan><tspan x="432" dy="14.7">中的作用。</tspan></text></g>
<g id="r6g"><rect x="491" y="3126" width="173" height="26" rx="4"/><text x="497" y="3143">初步运用所学知识分析以下问题;</text></g>
<g id="r6h"><rect x="426" y="3177" width="238" height="40" rx="4"/><text><tspan x="432" y="3194">结合现实中人们对货币的不同看法，从货币的</tspan><tspan x="432" dy="14.7">起源和本质说明正确认识货币的作用。</tspan></text></g>
<g id="r6i"><rect x="426" y="3241" width="238" height="40" rx="4"/><text><tspan x="432" y="3258">用价值规律的有关知识，分析说明商品生产者</tspan><tspan x="432" dy="14.7">必须不断提高劳动生产率。</tspan></text></g>
<g id="r6j"><rect x="607" y="3307" width="57" height="25" rx="4"/><text x="613" y="3324">能力要求</text></g>
<g id="r6k"><rect x="426" y="3356" width="238" height="85" rx="4"/><text><tspan x="432" y="3373">教学过程中着重培养学生由具体到抽象、透过</tspan><tspan x="432" dy="14.7">现象看本质的抽象思维能力;由已知判断合乎</tspan><tspan x="432" dy="14.7">规律地推出未知新判断的逻辑思维、推理能力</tspan><tspan x="432" dy="14.7">;运用基本理论，分析现实生活中的经济现象</tspan><tspan x="432" dy="14.7">以及党的经济政策的理论联系实际的能力。</tspan></text></g>
<g id="r6l"><rect x="585" y="3465" width="79" height="26" rx="4"/><text x="591" y="3482">思想觉悟要求</text></g>
<g id="r6m"><rect x="426" y="3516" width="238" height="69" rx="4"/><text><tspan x="432" y="3533">通过教学，使学生树立优胜劣汰的竞争意识、</tspan><tspan x="432" dy="14.7">时间观念、效率观念，以适应社会主义市场经</tspan><tspan x="432" dy="14.7">济的要求。同时，在商品经济的大潮中正确认</tspan><tspan x="432" dy="14.7">识和对待货币的作用，破除"金钱万能论"。</tspan></text></g>
</g>

<g class="p">
<g id="p1"><rect x="539" y="3611" width="237" height="186" rx="4"/><text><tspan x="545" y="3628">一、教学设计说明：作为政府权力行使的三个</tspan><tspan x="545" dy="14.7">环节之一的执行环节——依法行政，体现了</tspan><tspan x="545" dy="14.7">政府对人民负责的原则。本节设计主线是让学</tspan><tspan x="545" dy="14.7">生通过两段情景材料谈谈对政府工作人员的这</tspan><tspan x="545" dy="14.7">种做法的认识，探究对政府的这种不作为对人</tspan><tspan x="545" dy="14.7">民群众、对政府自身、对整个社会所带来的危</tspan><tspan x="545" dy="14.7">害，使学生加深对依法行政的重要性的认识。</tspan><tspan x="545" dy="14.7">同时提出让学生思考如何提高政府的依法行政</tspan><tspan x="545" dy="14.7">管理水平以及政府如何做到审慎用权科学民主</tspan><tspan x="545" dy="14.7">决策。主要内容是学习依法行政的原因和意义</tspan><tspan x="545" dy="14.7">以及如何提高行政管理水平、依法行政的具体</tspan><tspan x="545" dy="14.7">要求、政府如何科学民主决策等。</tspan></text></g>
<g id="p2"><rect x="539" y="3822" width="237" height="40" rx="4"/><text><tspan x="545" y="3839">二、研讨主题：新授课中学生自主合作探究的</tspan><tspan x="545" dy="14.7">运用</tspan></text></g>
<g id="p3"><rect x="686" y="4083" width="90" height="26" rx="4"/><text x="692" y="4100">三、课堂评价：</text></g>
<g id="p3a"><rect x="426" y="3887" width="238" height="54" rx="4"/><text><tspan x="432" y="3904">1.学生参与度：由于学生已在前一天晚上对本</tspan><tspan x="432" dy="14.7">课的自主探究学案做了预习，因此学生课堂参</tspan><tspan x="432" dy="14.7">与度较高。</tspan></text></g>
<g id="p3b"><rect x="426" y="3967" width="238" height="54" rx="4"/><text><tspan x="432" y="3984">2.问题设计：设计编排合理，在课本基础上对</tspan><tspan x="432" dy="14.7">梯度思考有所改进，对学生能力的培养有所提</tspan><tspan x="432" dy="14.7">高。</tspan></text></g>
<g id="p3c"><rect x="426" y="4047" width="238" height="39" rx="4"/><text><tspan x="432" y="4064">3.教师引导：新课导入自然顺畅，但在探究问</tspan><tspan x="432" dy="14.7">题的过程中缺乏向纵深发展。</tspan></text></g>
<g id="p3d"><rect x="426" y="4111" width="238" height="40" rx="4"/><text><tspan x="432" y="4128">4.课堂对话：教师富有亲和力，注重师生互动</tspan><tspan x="432" dy="14.7">，课堂气氛融洽。</tspan></text></g>
<g id="p3e"><rect x="426" y="4176" width="238" height="40" rx="4"/><text><tspan x="432" y="4193">5.知识落实：梯度思考回答问题合理，正确性</tspan><tspan x="432" dy="14.7">高。注重知识的落实与巩固。学生记忆较快。</tspan></text></g>
<g id="p3f"><rect x="426" y="4240" width="238" height="70" rx="4"/><text><tspan x="432" y="4257">6.总体评价：从教学过程来看，学生掌握知识</tspan><tspan x="432" dy="14.7">的情况较好，识记熟练，探究问题的意识较强</tspan><tspan x="432" dy="14.7">，但学生探究时的问题引导有偏离主题的现象</tspan><tspan x="432" dy="14.7">。</tspan></text></g>
<g id="p4"><rect x="697" y="4469" width="79" height="25" rx="4"/><text x="703" y="4486">四、课后反思</text></g>
<g id="p4a"><rect x="437" y="4335" width="238" height="55" rx="4"/><text><tspan x="443" y="4352">1.成功之处：教学设计符合学生的实际，通过</tspan><tspan x="443" dy="14.7">情景导入，课堂自然顺畅，学生巩固落实较好</tspan><tspan x="443" dy="14.7">。最后知识体系构建符合本课的主旨。</tspan></text></g>
<g id="p4b"><rect x="437" y="4414" width="238" height="40" rx="4"/><text><tspan x="443" y="4431">2.个人特色：自主学案编排合理，导入自然。</tspan><tspan x="443" dy="14.7">教学设计符合学生实际，课堂互动效果好。</tspan></text></g>
<g id="p4c"><rect x="437" y="4479" width="238" height="69" rx="4"/><text><tspan x="443" y="4496">3.存在问题：课堂注重教师与学生的交流，虽</tspan><tspan x="443" dy="14.7">有探究意识，但学生小组在探究中的作用没有</tspan><tspan x="443" dy="14.7">得到充分发挥。在探究过程中，探究任务没有</tspan><tspan x="443" dy="14.7">想纵深发展，不能很好地体现难点突破。</tspan></text></g>
<g id="p4d"><rect x="562" y="4588" width="113" height="26" rx="4"/><text x="568" y="4605">4.对研讨主题的反思</text></g>
<g id="p4d1"><rect x="304" y="4573" width="238" height="55" rx="4"/><text><tspan x="310" y="4590">在课堂上进行探究，事先一定要学生自主预习</tspan><tspan x="310" dy="14.7">，课堂上留给学生足够的探究时间，引导学生</tspan><tspan x="310" dy="14.7">讨论的时候，必须要有重点，有针对性。</tspan></text></g>
</g>

<g class="g">
<g id="g1"><rect x="1656" y="1548" width="79" height="25" rx="4"/><text x="1662" y="1565">★新课标要求</text></g>
<g id="g2"><rect x="1656" y="1714" width="77" height="25" rx="4"/><text x="1662" y="1731">(一)知识目标</text></g>
<g id="g2a"><rect x="1752" y="1598" width="238" height="40" rx="4"/><text><tspan x="1758" y="1615">1、知道经济往来结算中常用的信用工具：信</tspan><tspan x="1758" dy="14.7">用卡、支票、汇票</tspan></text></g>
<g id="g2b"><rect x="1752" y="1663" width="143" height="26" rx="4"/><text x="1758" y="1680">2、知道外汇和汇率的含义</text></g>
<g id="g2c"><rect x="1752" y="1714" width="212" height="25" rx="4"/><text x="1758" y="1731">3、理解各种信用工具的用途和使用范围</text></g>
<g id="g2d"><rect x="1752" y="1764" width="166" height="25" rx="4"/><text x="1758" y="1781">4、保持人民币币值稳定的意义</text></g>
<g id="g2e"><rect x="1752" y="1814" width="238" height="40" rx="4"/><text><tspan x="1758" y="1831">5、运用初步掌握的信用工具知识，联系实际</tspan><tspan x="1758" dy="14.7">谈谈信用工具在现代经济生活中的作用</tspan></text></g>
<g id="g3"><rect x="1656" y="1879" width="238" height="69" rx="4"/><text><tspan x="1662" y="1896">(二)能力目标1、通过演绎信用卡、支票、汇</tspan><tspan x="1662" dy="14.7">票等几种信用工具的使用，使学生感受现代经</tspan><tspan x="1662" dy="14.7">济生活中学会正确使用信用工具的好处，增强</tspan><tspan x="1662" dy="14.7">学生参与经济生活的能力。</tspan></text></g>
<g id="g4"><rect x="1656" y="2114" width="157" height="26" rx="4"/><text x="1662" y="2131">(三)情感、态度与价值观目标</text></g>
<g id="g4a"><rect x="1832" y="1973" width="238" height="40" rx="4"/><text><tspan x="1838" y="1990">通过本框学习，使学生确立与市场经济相适应</tspan><tspan x="1838" dy="14.7">的商品货币观念，树立正确的金钱观</tspan></text></g>
<g id="g4b"><rect x="1832" y="2038" width="128" height="26" rx="4"/><text x="1838" y="2055">教学重点:信用工具外汇</text></g>
<g id="g4c"><rect x="1832" y="2088" width="113" height="26" rx="4"/><text x="1838" y="2105">★教学难点外汇汇率</text></g>
<g id="g4d"><rect x="1832" y="2139" width="238" height="83" rx="4"/><text><tspan x="1838" y="2156">★教学方法教师启发、引导，学生收集、整理</tspan><tspan x="1838" dy="14.7">有关资料，并组织学生亲自办张借记卡、灵通</tspan><tspan x="1838" dy="14.7">卡，用借记卡和灵通卡消费，体验信用消费;</tspan><tspan x="1838" dy="14.7">课上采取讨论等学生主体参与的课堂教学活动</tspan><tspan x="1838" dy="14.7">。</tspan></text></g>
<g id="g4e"><rect x="1832" y="2248" width="57" height="25" rx="4"/><text x="1838" y="2265">教学过程</text></g>
<g id="g5"><rect x="1656" y="2476" width="77" height="26" rx="4"/><text x="1662" y="2493">(一)导入新课</text></g>
<g id="g5a"><rect x="1752" y="2299" width="238" height="98" rx="4"/><text><tspan x="1758" y="2316">教师提问：通过上节课学习，我们理解了货币</tspan><tspan x="1758" dy="14.7">的本质，知道了货币的职能，并且知道随着商</tspan><tspan x="1758" dy="14.7">品经济的发展，纸币代替了金属货币执行流通</tspan><tspan x="1758" dy="14.7">手段等职能，给人们的商品交换带来了便利。</tspan><tspan x="1758" dy="14.7">但信息技术的发展，又出现了新的流通工具，</tspan><tspan x="1758" dy="14.7">大家知道有哪些吗?</tspan></text></g>
<g id="g5b"><rect x="1752" y="2422" width="238" height="54" rx="4"/><text><tspan x="1758" y="2439">学生活动：一部分学生可能忙着翻书去找;一</tspan><tspan x="1758" dy="14.7">部分学生可能互相讨论;一部分学生可能预习</tspan><tspan x="1758" dy="14.7">过教材，大声回答。</tspan></text></g>
<g id="g5c"><rect x="1752" y="2501" width="206" height="26" rx="4"/><text x="1758" y="2518">学生回答：信用卡、借记卡、灵通卡等</text></g>
<g id="g5d"><rect x="1752" y="2552" width="238" height="40" rx="4"/><text><tspan x="1758" y="2569">教师提问：大家知道这些工具怎么使用，有什</tspan><tspan x="1758" dy="14.7">么好处，能给我们的生活带来什么吗?</tspan></text></g>
<g id="g5e"><rect x="1752" y="2617" width="238" height="25" rx="4"/><text x="1758" y="2634">这就需要我们学习"信用工具和外汇"这一框。</text></g>
<g id="g6"><rect x="1656" y="3273" width="77" height="26" rx="4"/><text x="1662" y="3290">(二)进行新课</text></g>
<g id="g6a"><rect x="1752" y="2682" width="75" height="25" rx="4"/><text x="1758" y="2699">1、信用工具</text></g>
<g id="g6a1"><rect x="1849" y="2667" width="237" height="54" rx="4"/><text><tspan x="1855" y="2684">教师活动：引导学生阅读教材，同时提出问题</tspan><tspan x="1855" dy="14.7">：1、在核算经济往来时，通常使用什么结算</tspan><tspan x="1855" dy="14.7">方式?</tspan></text></g>
<g id="g6b"><rect x="1752" y="3116" width="238" height="40" rx="4"/><text><tspan x="1758" y="3133">2、你在生活中接触或使用过什么样的信用工</tspan><tspan x="1758" dy="14.7">具?3、对使用信用工具有什么感受?</tspan></text></g>
<g id="g6b1"><rect x="2013" y="2747" width="237" height="54" rx="4"/><text><tspan x="2019" y="2764">学生活动：学生在教师的指导下，自主阅读，</tspan><tspan x="2019" dy="14.7">积极思考，然后展开讨论，发表见解，回答问</tspan><tspan x="2019" dy="14.7">题</tspan></text></g>
<g id="g6b2"><rect x="2013" y="2827" width="237" height="39" rx="4"/><text><tspan x="2019" y="2844">教师活动：总结学生回答的提问，继续设问：</tspan><tspan x="2019" dy="14.7">什么是信用卡?如何使用?</tspan></text></g>
<g id="g6b3"><rect x="2013" y="2892" width="237" height="55" rx="4"/><text><tspan x="2019" y="2909">学生活动：学生在教师的指导下，自主阅读，</tspan><tspan x="2019" dy="14.7">积极思考，然后每四人一组展开讨论，每组选</tspan><tspan x="2019" dy="14.7">出代表，发表见解，回答问题</tspan></text></g>
<g id="g6b4"><rect x="2013" y="2971" width="237" height="39" rx="4"/><text><tspan x="2019" y="2988">教师活动：聆听学生回答，进行点评，并总结</tspan><tspan x="2019" dy="14.7">：两种结算方式：现金结算和转帐结算</tspan></text></g>
<g id="g6b5"><rect x="2013" y="3036" width="237" height="69" rx="4"/><text><tspan x="2019" y="3053">信用卡是银行对资信状况良好的客户发行的一</tspan><tspan x="2019" dy="14.7">种信用凭证。使用信用卡消费更加简便、使用</tspan><tspan x="2019" dy="14.7">、高效与安全。我们应该学会使用信用卡。(</tspan><tspan x="2019" dy="14.7">了解常用信用卡的使用)</tspan></text></g>
<g id="g6b6"><rect x="2013" y="3131" width="237" height="54" rx="4"/><text><tspan x="2019" y="3148">教师活动：出示一张支票(复印单)——这是我</tspan><tspan x="2019" dy="14.7">们学校为了购置多媒体给三联家电的一张票据</tspan><tspan x="2019" dy="14.7">，请大家看看，知道是什么?它有什么作用?</tspan></text></g>
<g id="g6b7"><rect x="2013" y="3211" width="172" height="25" rx="4"/><text x="2019" y="3228">学生活动：分组讨论，得出结论</text></g>
<g id="g6b8"><rect x="2013" y="3260" width="217" height="26" rx="4"/><text x="2019" y="3277">教师点拨：总结学生结论，引导学生知道</text></g>
<g id="g6b9"><rect x="2013" y="3311" width="237" height="113" rx="4"/><text><tspan x="2019" y="3328">(3)支票是活期存款的支付凭证，是出票人委</tspan><tspan x="2019" dy="14.7">托银行等金融机构见票时无条件支付一定金额</tspan><tspan x="2019" dy="14.7">给受款人或者持票人的票据。支票分为转帐支</tspan><tspan x="2019" dy="14.7">票和现金支票两种，转帐支票用于同城结算，</tspan><tspan x="2019" dy="14.7">付款单位开出支票后，收款单位凭此票到银行</tspan><tspan x="2019" dy="14.7">把这笔钱转入自己的帐户。现金支票由付款单</tspan><tspan x="2019" dy="14.7">位开出，收款人凭票到银行支取现金。</tspan></text></g>
<g id="g6b9a"><rect x="2272" y="3326" width="238" height="83" rx="4"/><text><tspan x="2278" y="3343">教师活动：现在我们学校从北京某公司购进一</tspan><tspan x="2278" dy="14.7">批餐具，我们学校应该怎样和这个公司结算呢</tspan><tspan x="2278" dy="14.7">?是否仍用支票结算?学生活动：看书并讨论，</tspan><tspan x="2278" dy="14.7">请学生代表发言，在此基础上教师进行归纳总</tspan><tspan x="2278" dy="14.7">结</tspan></text></g>
<g id="g6b10"><rect x="2013" y="3449" width="237" height="98" rx="4"/><text><tspan x="2019" y="3466">(4)汇票支票一般用于同城结算，外埠结算一</tspan><tspan x="2019" dy="14.7">般使用汇票。汇票由出票人签发，委托付款人</tspan><tspan x="2019" dy="14.7">在见票时或在指定日期，无条件支付确定的金</tspan><tspan x="2019" dy="14.7">额给收款人或持票人。汇票包括银行汇票和商</tspan><tspan x="2019" dy="14.7">业汇票。银行汇票又分为电汇和信汇。汇票的</tspan><tspan x="2019" dy="14.7">使用，避免了长途携带现金的不便和风险。</tspan></text></g>
<g id="g6c"><rect x="1752" y="3834" width="238" height="83" rx="4"/><text><tspan x="1758" y="3851">2、外汇教师活动：多媒体展示欧洲优美的风</tspan><tspan x="1758" dy="14.7">光，假期间我计划去欧洲旅游，在那里我能使</tspan><tspan x="1758" dy="14.7">用人民币消费、购物吗?学生活动：学生就老</tspan><tspan x="1758" dy="14.7">师提出的问题去阅读教材;然后展开讨论，并</tspan><tspan x="1758" dy="14.7">回答</tspan></text></g>
<g id="g6c1"><rect x="2013" y="3572" width="237" height="70" rx="4"/><text><tspan x="2019" y="3589">教师总结：(1)含义：外汇是指以外币表示的</tspan><tspan x="2019" dy="14.7">用于国际间结算的支付工具。外汇储备是一个</tspan><tspan x="2019" dy="14.7">国家国际储备的重要组成部分，用于平衡国际</tspan><tspan x="2019" dy="14.7">收支、稳定汇率、偿还对外债务等。</tspan></text></g>
<g id="g6c2"><rect x="2013" y="3667" width="237" height="98" rx="4"/><text><tspan x="2019" y="3684">在经济生活中大家要了解外汇的特征(以外国</tspan><tspan x="2019" dy="14.7">货币表示;可自由兑换)以及外币与外汇的关系</tspan><tspan x="2019" dy="14.7">：外汇包括外币，但外汇不等于外币。外汇中</tspan><tspan x="2019" dy="14.7">还包括其他内容：外币有价证券、外币支付凭</tspan><tspan x="2019" dy="14.7">证等，外汇的主要内容是外币支付凭证。通常</tspan><tspan x="2019" dy="14.7">情况下，只有可以自由兑换的外币才是外汇。</tspan></text></g>
<g id="g6c3"><rect x="2013" y="3790" width="237" height="40" rx="4"/><text><tspan x="2019" y="3807">(2)汇率的含义：汇率又称汇价，是两种货币</tspan><tspan x="2019" dy="14.7">之间的兑换比率</tspan></text></g>
<g id="g6c3a"><rect x="2272" y="3790" width="238" height="40" rx="4"/><text><tspan x="2278" y="3807">学生活动：思考P10"人民币外汇牌价"两个练</tspan><tspan x="2278" dy="14.7">习题，教师总结：</tspan></text></g>
<g id="g6c4"><rect x="2013" y="3888" width="237" height="84" rx="4"/><text><tspan x="2019" y="3905">(3)人民币外汇牌价：我国通常采用100单位</tspan><tspan x="2019" dy="14.7">外币作为标准，折算为一定数量的人民币。如</tspan><tspan x="2019" dy="14.7">果用100单位外币可以兑换更多的人民币，说</tspan><tspan x="2019" dy="14.7">明外汇汇率升高;反之，则说明外汇汇率跌落</tspan><tspan x="2019" dy="14.7">。</tspan></text></g>
<g id="g6c4a"><rect x="2272" y="3856" width="238" height="68" rx="4"/><text><tspan x="2278" y="3873">教师活动：大家知道汇率是经常变动的，为什</tspan><tspan x="2278" dy="14.7">么汇率经常变动?我国在美国、日本等国再三</tspan><tspan x="2278" dy="14.7">施加压力的情况下，为什么保持汇率稳定，人</tspan><tspan x="2278" dy="14.7">民币不升值?</tspan></text></g>
<g id="g6c4b"><rect x="2272" y="3951" width="238" height="38" rx="4"/><text><tspan x="2278" y="3967">学生活动：学生就老师提出的问题去阅读教材</tspan><tspan x="2278" dy="14.7">;然后展开讨论，并回答</tspan></text></g>
<g id="g6c5"><rect x="2013" y="4129" width="162" height="27" rx="4"/><text x="2019" y="4147">(4)保持人民币币值稳定的意义</text></g>
<g id="g6c5a"><rect x="2196" y="4015" width="238" height="69" rx="4"/><text><tspan x="2202" y="4032">教师点评：影响汇率变动的因素主要有：外汇</tspan><tspan x="2202" dy="14.7">的供求关系、通货膨胀(或紧缩)率的差异、经</tspan><tspan x="2202" dy="14.7">济增长率、利率水平、国家货币_的干预与管</tspan><tspan x="2202" dy="14.7">制、市场预期、外汇投机活动等。</tspan></text></g>
<g id="g6c5b"><rect x="2196" y="4109" width="238" height="69" rx="4"/><text><tspan x="2202" y="4126">外汇在国家经济发展和国际贸易中具有重要的</tspan><tspan x="2202" dy="14.7">作用：通过汇率的升降调节进出口贸易;可以</tspan><tspan x="2202" dy="14.7">影响国际资本的流动方向和数量;可以影响国</tspan><tspan x="2202" dy="14.7">内物价水平;影响外汇储备的实际价值等。</tspan></text></g>
<g id="g6c5c"><rect x="2196" y="4203" width="238" height="70" rx="4"/><text><tspan x="2202" y="4220">因为外汇在国家经济发展和国际贸易中具有重</tspan><tspan x="2202" dy="14.7">要的作用，我国保持人民币币值稳定，对实现</tspan><tspan x="2202" dy="14.7">扩大就业、经济增长和国际收支平衡，促进国</tspan><tspan x="2202" dy="14.7">民经济持续快速健康发展，具有重要意义。</tspan></text></g>
<g id="g7"><rect x="1656" y="4315" width="238" height="98" rx="4"/><text><tspan x="1662" y="4332">(三)课堂总结、点评这节课我们重点学习信用</tspan><tspan x="1662" dy="14.7">工具、外汇和汇率的有关知识。深刻理解这些</tspan><tspan x="1662" dy="14.7">概念，弄清它们之间的区别和联系，是进一步</tspan><tspan x="1662" dy="14.7">学习经济生活知识的基础。也是大家参与经济</tspan><tspan x="1662" dy="14.7">生活的重要基础，有利于提高大家参与经济生</tspan><tspan x="1662" dy="14.7">活能力。</tspan></text></g>
<g id="g7a"><rect x="1916" y="4297" width="68" height="26" rx="4"/><text x="1922" y="4314">★教学体会</text></g>
<g id="g7b"><rect x="1916" y="4347" width="237" height="143" rx="4"/><text><tspan x="1922" y="4364">本节学习了信用卡、外汇和汇率的有关知识，</tspan><tspan x="1922" dy="14.7">知识点比较多，涉及面比较广。根据新课程目</tspan><tspan x="1922" dy="14.7">标要求，要把握住信用卡和外汇这两个重点，</tspan><tspan x="1922" dy="14.7">引导学生思考、讨论、理解。涉及的相关链接</tspan><tspan x="1922" dy="14.7">知识让学生了解即可，不可以展开。教学中注</tspan><tspan x="1922" dy="14.7">意双向互动，让学生在积极思考与讨论中，在</tspan><tspan x="1922" dy="14.7">社会实践中，自主探索、领会有关经济生活中</tspan><tspan x="1922" dy="14.7">包含的经济学道理，学会独立分析，增强参与</tspan><tspan x="1922" dy="14.7">经济生活的能力，切忌机械记忆。</tspan></text></g>
</g>

<g class="b">
<g id="l1"><rect x="1689" y="4514.5" width="212" height="27" rx="4"/><text x="1695" y="4532">★ 高中思想政治课教学设计方案模板5篇</text></g>
<g id="l2"><rect x="1689" y="4564.5" width="155" height="27" rx="4"/><text x="1695" y="4582">★ 高中政治教学设计方案5篇</text></g>
<g id="l3"><rect x="1689" y="4615.5" width="178" height="27" rx="4"/><text x="1695" y="4633">★ 高中政治学科教学设计方案5篇</text></g>
<g id="l4"><rect x="1689" y="4665.5" width="201" height="27" rx="4"/><text x="1695" y="4683">★ 高中优秀政治学科教学设计方案5篇</text></g>
<g id="l5"><rect x="1689" y="4716.5" width="178" height="27" rx="4"/><text x="1695" y="4734">★ 高中思想政治教学设计模板5篇</text></g>
<g id="l6"><rect x="1689" y="4766.5" width="189" height="27" rx="4"/><text x="1695" y="4784">★ 高中政治教学设计方案怎么写5篇</text></g>
<g id="l7"><rect x="1689" y="4816.5" width="189" height="27" rx="4"/><text x="1695" y="4834">★ 关于思想政治课教学设计方案5篇</text></g>
<g id="l8"><rect x="1689" y="4866.5" width="212" height="27" rx="4"/><text x="1695" y="4884">★ 关于高中政治教学设计方案怎么写5篇</text></g>
<g id="l9"><rect x="1689" y="4917.5" width="133" height="27" rx="4"/><text x="1695" y="4935">★ 教学设计高一政治5篇</text></g>
<g id="l10"><rect x="1689" y="4967.5" width="155" height="27" rx="4"/><text x="1695" y="4985">★ 高中政治教学设计模板5篇</text></g>
</g>
</g>
</svg>
